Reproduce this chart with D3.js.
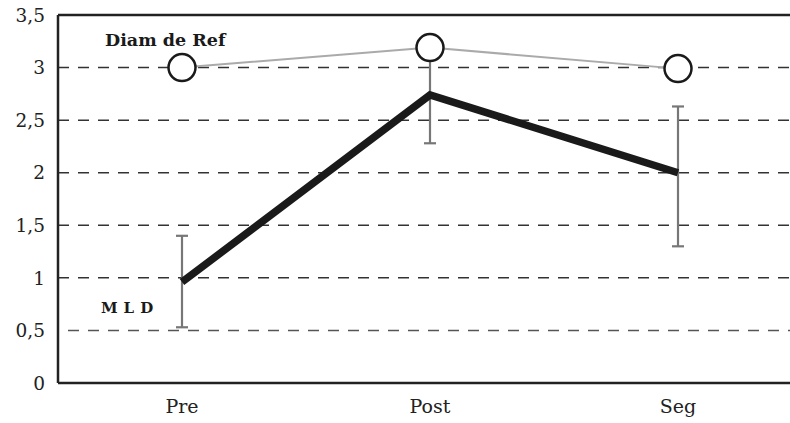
<!DOCTYPE html>
<html>
<head>
<meta charset="utf-8">
<script src="https://cdn.jsdelivr.net/npm/d3@7"></script>
<style>
  body { margin: 0; background: #fff; }
  svg { display: block; }
</style>
</head>
<body>
<svg id="chart" width="790" height="423"></svg>
<script>
const categories = ['Pre', 'Post', 'Seg'];
const diamRef = [3.0, 3.19, 2.99];
const mld = [0.96, 2.74, 2.0];
const mldLow = [0.53, 2.28, 1.3];
const mldHigh = [1.4, 3.2, 2.63];
const yTicks = [0, 0.5, 1, 1.5, 2, 2.5, 3, 3.5];
const gridTicks = [0.5, 1, 1.5, 2, 2.5, 3];

const width = 790;
const height = 423;
const margin = { top: 15, right: 0, bottom: 40, left: 58 };

const svg = d3.select('#chart');

const x = d3.scalePoint()
  .domain(categories)
  .range([margin.left, 802])
  .padding(0.5);

const y = d3.scaleLinear()
  .domain([0, 3.5])
  .range([height - margin.bottom, margin.top]);

const fmt = d => String(d).replace('.', ',');
const serif = '"DejaVu Serif", serif';

// dashed grid
svg.append('g')
  .selectAll('line')
  .data(gridTicks)
  .join('line')
  .attr('x1', d => d === 0.5 ? 68 : margin.left)
  .attr('x2', width)
  .attr('y1', d => y(d))
  .attr('y2', d => y(d))
  .attr('stroke', d => d === 0.5 ? '#555' : '#333')
  .attr('stroke-width', 1.5)
  .attr('stroke-dasharray', '11,9');

// frame: left, bottom, top
const frame = svg.append('g')
  .attr('stroke', '#222')
  .attr('stroke-width', 2.5);
frame.append('line')
  .attr('x1', margin.left).attr('x2', margin.left)
  .attr('y1', y(3.5)).attr('y2', y(0));
frame.append('line')
  .attr('x1', margin.left).attr('x2', width)
  .attr('y1', y(0)).attr('y2', y(0));
frame.append('line')
  .attr('x1', margin.left).attr('x2', width)
  .attr('y1', y(3.5)).attr('y2', y(3.5));

// y tick labels
svg.append('g')
  .attr('font-family', serif)
  .attr('font-size', 18.5)
  .attr('fill', '#222')
  .attr('text-anchor', 'end')
  .selectAll('text')
  .data(yTicks)
  .join('text')
  .attr('x', 45)
  .attr('y', d => y(d))
  .attr('dy', '0.36em')
  .text(fmt);

// x labels
svg.append('g')
  .attr('font-family', serif)
  .attr('font-size', 19)
  .attr('fill', '#222')
  .attr('text-anchor', 'middle')
  .selectAll('text')
  .data(categories)
  .join('text')
  .attr('x', d => x(d))
  .attr('y', 413)
  .text(d => d);

// error bars
const err = svg.append('g')
  .attr('stroke', '#777')
  .attr('stroke-width', 2.2);
categories.forEach((c, i) => {
  err.append('line')
    .attr('x1', x(c)).attr('x2', x(c))
    .attr('y1', y(mldLow[i])).attr('y2', y(mldHigh[i]));
  [mldLow[i], mldHigh[i]].forEach(v => {
    err.append('line')
      .attr('x1', x(c) - 6).attr('x2', x(c) + 6)
      .attr('y1', y(v)).attr('y2', y(v));
  });
});

// MLD line
const line = d3.line()
  .x((d, i) => x(categories[i]))
  .y(d => y(d));

svg.append('path')
  .datum(mld)
  .attr('d', line)
  .attr('fill', 'none')
  .attr('stroke', '#1a1a1a')
  .attr('stroke-width', 7.5);

// Diam de Ref line + circles
svg.append('path')
  .datum(diamRef)
  .attr('d', line)
  .attr('fill', 'none')
  .attr('stroke', '#aaa')
  .attr('stroke-width', 2);

svg.append('g')
  .selectAll('circle')
  .data(diamRef)
  .join('circle')
  .attr('cx', (d, i) => x(categories[i]))
  .attr('cy', d => y(d))
  .attr('r', 13.5)
  .attr('fill', '#fff')
  .attr('stroke', '#1a1a1a')
  .attr('stroke-width', 2.5);

// series labels
svg.append('text')
  .attr('x', 105)
  .attr('y', 46)
  .attr('font-family', serif)
  .attr('font-weight', 'bold')
  .attr('font-size', 17.5)
  .attr('fill', '#1a1a1a')
  .text('Diam de Ref');

svg.append('text')
  .attr('x', 101)
  .attr('y', 313)
  .attr('font-family', serif)
  .attr('font-weight', 'bold')
  .attr('font-size', 15)
  .attr('letter-spacing', 6)
  .attr('fill', '#1a1a1a')
  .text('MLD');
</script>
</body>
</html>
